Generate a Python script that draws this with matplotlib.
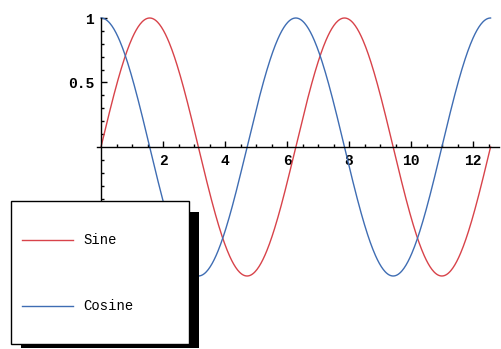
import numpy as np
import matplotlib
matplotlib.use("Agg")
import matplotlib.pyplot as plt
from matplotlib.patches import Rectangle
from matplotlib.lines import Line2D
from matplotlib.ticker import FixedLocator, FuncFormatter

# Series: sine and cosine over two full periods
series_names = ["Sine", "Cosine"]
series_colors = ["#d8434a", "#3f6db3"]
x = np.linspace(0, 4 * np.pi, 600)
sine_values = np.sin(x)
cosine_values = np.cos(x)

x_ticks = [2, 4, 6, 8, 10, 12]
y_ticks = [-1, -0.5, 0.5, 1]

W, H = 501, 349
fig = plt.figure(figsize=(W / 100, H / 100), dpi=100)
fig.patch.set_facecolor("white")
ax = fig.add_axes([0, 0, 1, 1])

# pixel mapping: origin at (101, 147), 31 px per x unit, 129 px per y unit
x0, y0, sx, sy = 101, 147, 31.0, 129.0
ax.set_xlim(-x0 / sx, (W - x0) / sx)
ax.set_ylim((y0 - H) / sy, y0 / sy)

ax.plot(x, sine_values, color=series_colors[0], lw=1.0)
ax.plot(x, cosine_values, color=series_colors[1], lw=1.0)

for s in ("top", "right"):
    ax.spines[s].set_visible(False)
ax.spines["left"].set_position(("data", 0))
ax.spines["bottom"].set_position(("data", 0))
ax.spines["left"].set_bounds(-1.02, 1.0)
ax.spines["bottom"].set_bounds(-0.13, 12.85)
for s in ("left", "bottom"):
    ax.spines[s].set_linewidth(1.0)
    ax.spines[s].set_color("black")

x_minor = [v for v in np.arange(0.5, 12.6, 0.5) if v not in x_ticks]
y_minor = [round(v, 1) for v in np.arange(-0.9, 0.95, 0.1)
           if abs(round(v, 1)) > 1e-9 and abs(abs(round(v, 1)) - 0.5) > 1e-9]

ax.xaxis.set_major_locator(FixedLocator(x_ticks))
ax.xaxis.set_minor_locator(FixedLocator(x_minor))
ax.yaxis.set_major_locator(FixedLocator(y_ticks))
ax.yaxis.set_minor_locator(FixedLocator(y_minor))
ax.xaxis.set_major_formatter(FuncFormatter(lambda v, p: f"{v:g}"))
ax.yaxis.set_major_formatter(FuncFormatter(lambda v, p: f"{v:g}"))
ax.tick_params(axis="x", which="major", direction="in", length=4, width=1, pad=5)
ax.tick_params(axis="x", which="minor", direction="in", length=2.2, width=1)
ax.tick_params(axis="y", which="major", direction="in", length=4, width=1, pad=5)
ax.tick_params(axis="y", which="minor", direction="in", length=2.2, width=1)
for lab in ax.get_xticklabels() + ax.get_yticklabels():
    lab.set_fontfamily("Liberation Mono")
    lab.set_fontsize(10.5)
    lab.set_fontweight("bold")


def px_rect(l, t, r, b, **kw):
    return Rectangle((l / W, 1 - b / H), (r - l) / W, (b - t) / H,
                     transform=fig.transFigure, **kw)


# legend box with solid drop shadow
fig.add_artist(px_rect(21, 212, 199, 348, facecolor="black", edgecolor="none", zorder=10))
fig.add_artist(px_rect(11, 201, 189, 344, facecolor="white", edgecolor="black", lw=1.0, zorder=11))
for name, color, ypx in zip(series_names, series_colors, [240, 306]):
    fig.add_artist(Line2D([22 / W, 73 / W], [1 - ypx / H, 1 - ypx / H],
                          transform=fig.transFigure, color=color, lw=1.0, zorder=12))
    fig.text(83 / W, 1 - ypx / H, name, family="Liberation Mono", size=10,
             ha="left", va="center", zorder=12)

fig.savefig("out.png", dpi=100)
